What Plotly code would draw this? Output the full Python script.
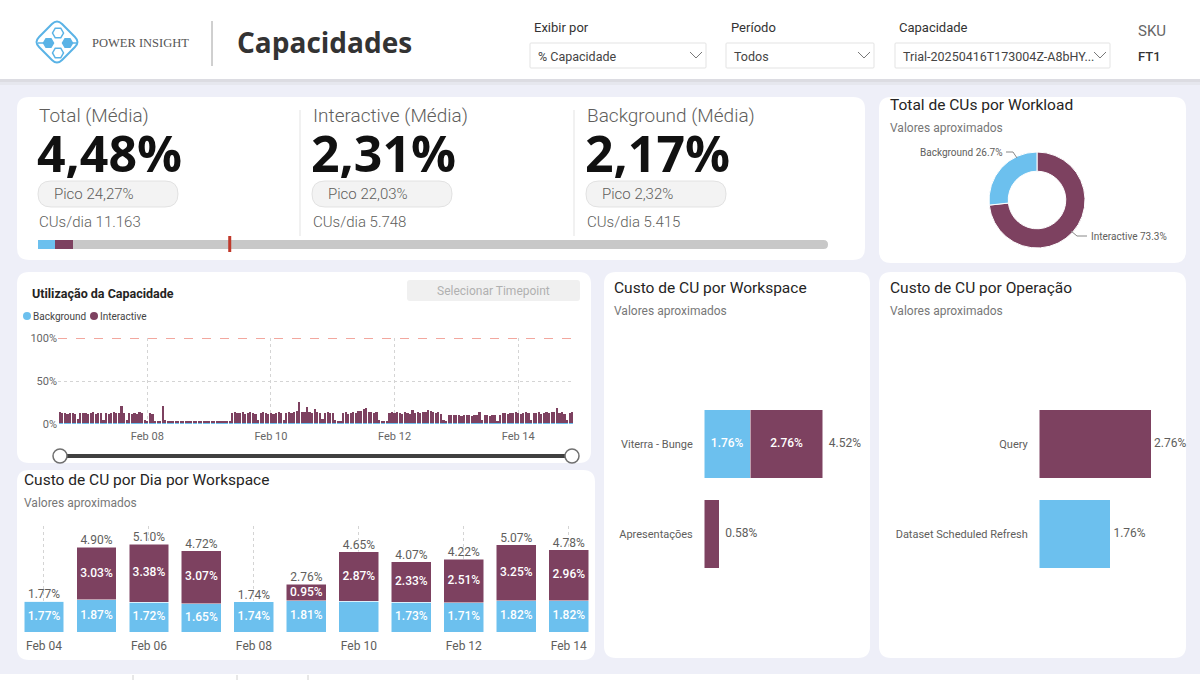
import plotly.graph_objects as go
import pandas as pd

W, H = 1200, 680
def X(p): return p / W
def Y(p): return 1 - p / H

BLUE = "#6CC0EE"
PURPLE = "#7D4160"
GRAY_TXT = "#605E5C"
BG = "#EEEFF8"
TITLE_FONT = "Roboto"
BODY_FONT = "Roboto"
NUM_FONT = "Open Sans"

# ---------------- DATA ----------------
kpi_titles = ["Total (Média)", "Interactive (Média)", "Background (Média)"]
kpi_avg = ["4,48%", "2,31%", "2,17%"]
kpi_peak = ["24,27%", "22,03%", "2,32%"]
kpi_cus_day = ["11.163", "5.748", "5.415"]
avg_background = 2.17
avg_interactive = 2.31
peak_total = 24.27

workload_labels = ["Interactive", "Background"]
workload_share = [73.3, 26.7]

util_start = "2025-02-06 14:00"
util_interactive = (
    [13, 11, 11, 10, 11, 11, 10, 4, 11, 11]
    + [11, 10, 11, 12, 10, 11, 11, 3, 11, 10, 11, 12, 11, 11, 20, 11, 3, 11, 10, 11, 10, 12, 11, 3]
    + [2, 11, 10, 2, 2, 2, 20, 3, 1, 1, 1, 1, 1, 2, 1, 1, 1, 1, 1, 1, 1, 1, 1, 1]
    + [1, 1, 1, 1, 1, 2, 1, 1, 1, 11, 12, 11, 11, 12, 10, 11, 12, 11, 10, 3, 11, 12, 11, 10]
    + [11, 10, 11, 12, 11, 3, 11, 12, 11, 13, 14, 24, 13, 12, 18, 12, 11, 16, 12, 11, 4, 11, 12, 11]
    + [11, 3, 2, 2, 11, 12, 10, 11, 12, 11, 13, 14, 16, 17, 12, 13, 11, 12, 3, 2, 2, 2, 11, 12]
    + [11, 12, 11, 10, 12, 11, 10, 15, 11, 12, 11, 13, 12, 15, 14, 12, 11, 12, 10, 3, 2, 9, 9, 9]
    + [9, 9, 8, 9, 9, 9, 8, 9, 9, 13, 3, 9, 9, 8, 9, 9, 2, 9, 11, 11, 10, 11, 11, 12]
    + [11, 10, 11, 12, 11, 3, 11, 11, 12, 10, 11, 12, 11, 13, 12, 17, 11, 12, 10, 3, 11, 12]
)
util_background = (
    [1.5, 1.6, 1.5, 1.5, 1.4, 1.5, 1.6, 1.5, 1.5, 1.5]
    + [1.5, 1.4, 1.5, 1.6, 1.5, 1.5, 1.5, 1.4, 1.5, 1.6, 1.5, 1.5, 1.5, 1.6, 1.5, 1.5, 1.4, 1.5, 1.5, 1.6, 1.5, 1.5, 1.4, 1.5]
    + [1.5, 1.6, 1.5, 1.5, 1.4, 1.5, 1.5, 1.5, 1.6, 1.5, 1.5, 1.4, 1.5, 1.5, 1.6, 1.5, 1.5, 1.5, 1.4, 1.5, 1.5, 1.6, 1.5, 1.5]
    + [1.5, 1.4, 1.5, 1.5, 1.6, 1.5, 1.5, 1.5, 1.4, 1.5, 1.6, 1.5, 1.5, 1.5, 1.4, 1.5, 1.5, 1.6, 1.5, 1.5, 1.5, 1.4, 1.5, 1.5]
    + [1.6, 1.5, 1.5, 1.5, 1.4, 1.5, 1.5, 1.6, 1.5, 1.5, 1.5, 1.4, 1.5, 1.5, 1.6, 1.5, 1.5, 1.5, 1.4, 1.5, 1.5, 1.6, 1.5, 1.5]
    + [1.5, 1.4, 1.5, 1.5, 1.6, 1.5, 1.5, 1.5, 1.4, 1.5, 1.6, 1.5, 1.5, 1.5, 1.4, 1.5, 1.5, 1.6, 1.5, 1.5, 1.5, 1.4, 1.5, 1.5]
    + [1.6, 1.5, 1.5, 1.5, 1.4, 1.5, 1.5, 1.6, 1.5, 1.5, 1.5, 1.4, 1.5, 1.5, 1.6, 1.5, 1.5, 1.5, 1.4, 1.5, 1.5, 1.6, 1.5, 1.5]
    + [1.5, 1.4, 1.5, 1.5, 1.6, 1.5, 1.5, 1.5, 1.4, 1.5, 1.6, 1.5, 1.5, 1.5, 1.4, 1.5, 1.5, 1.6, 1.5, 1.5, 1.5, 1.4, 1.5, 1.5]
    + [1.6, 1.5, 1.5, 1.5, 1.4, 1.5, 1.5, 1.6, 1.5, 1.5, 1.5, 1.4, 1.5, 1.5, 1.6, 1.5, 1.5, 1.5, 1.4, 1.5, 1.5, 1.6]
)
util_ticks = ["2025-02-08", "2025-02-10", "2025-02-12", "2025-02-14"]

day_dates = ["2025-02-04", "2025-02-05", "2025-02-06", "2025-02-07", "2025-02-08", "2025-02-09",
             "2025-02-10", "2025-02-11", "2025-02-12", "2025-02-13", "2025-02-14"]
day_background = [1.77, 1.87, 1.72, 1.65, 1.74, 1.81, 1.78, 1.73, 1.71, 1.82, 1.82]
day_interactive = [0, 3.03, 3.38, 3.07, 0, 0.95, 2.87, 2.33, 2.51, 3.25, 2.96]
day_total = [1.77, 4.90, 5.10, 4.72, 1.74, 2.76, 4.65, 4.07, 4.22, 5.07, 4.78]
day_bg_label_hidden = ["2025-02-10"]
day_ticks = ["2025-02-04", "2025-02-06", "2025-02-08", "2025-02-10", "2025-02-12", "2025-02-14"]

ws_names = ["Viterra - Bunge", "Apresentações"]
ws_background = [1.76, 0]
ws_interactive = [2.76, 0.58]
ws_total = [4.52, 0.58]

op_names = ["Query", "Dataset Scheduled Refresh"]
op_values = [2.76, 1.76]
op_kind = ["Interactive", "Background"]

# --------------- helpers ---------------
shapes = []
ann = []

def P(x, y):
    return f"{X(x):.5f},{Y(y):.5f}"

def rrect(x0, y0, x1, y1, r, fill, line=None, lw=0, layer="below"):
    d = (f"M{P(x0+r,y0)} L{P(x1-r,y0)} Q{P(x1,y0)} {P(x1,y0+r)} "
         f"L{P(x1,y1-r)} Q{P(x1,y1)} {P(x1-r,y1)} L{P(x0+r,y1)} "
         f"Q{P(x0,y1)} {P(x0,y1-r)} L{P(x0,y0+r)} Q{P(x0,y0)} {P(x0+r,y0)} Z")
    shapes.append(dict(type="path", xref="paper", yref="paper", path=d, fillcolor=fill,
                       line=dict(color=line or fill, width=lw), layer=layer))

def rect(x0, y0, x1, y1, fill, layer="below"):
    shapes.append(dict(type="rect", xref="paper", yref="paper", x0=X(x0), x1=X(x1),
                       y0=Y(y1), y1=Y(y0), fillcolor=fill, line=dict(width=0), layer=layer))

def seg(x0, y0, x1, y1, color, w=1, dash=None, layer="below"):
    ln = dict(color=color, width=w)
    if dash:
        ln["dash"] = dash
    shapes.append(dict(type="line", xref="paper", yref="paper", x0=X(x0), y0=Y(y0),
                       x1=X(x1), y1=Y(y1), line=ln, layer=layer))

def polyline(pts, color, w=1, fill=None, closed=False, layer="above"):
    d = "M" + " L".join(P(a, b) for a, b in pts) + (" Z" if closed else "")
    shapes.append(dict(type="path", xref="paper", yref="paper", path=d,
                       fillcolor=fill if fill else "rgba(0,0,0,0)",
                       line=dict(color=color, width=w), layer=layer))

def circle(cx, cy, r, fill, line=None, lw=0, layer="above"):
    shapes.append(dict(type="circle", xref="paper", yref="paper", x0=X(cx-r), x1=X(cx+r),
                       y0=Y(cy+r), y1=Y(cy-r), fillcolor=fill,
                       line=dict(color=line or fill, width=lw), layer=layer))

def text(x, y, s, size=12, color="#333", family=BODY_FONT, anchor="left", weight="normal", valign="middle", height=None):
    a = dict(x=X(x), y=Y(y), xref="paper", yref="paper", text=s, showarrow=False,
             xanchor=anchor, yanchor=valign,
             font=dict(size=size, color=color, family=family, weight=weight))
    if height:
        a["height"] = height
    ann.append(a)

def hexagon(cx, cy, r, color, filled):
    import math
    pts = [(cx + r * math.cos(math.radians(a)), cy + r * math.sin(math.radians(a))) for a in range(0, 360, 60)]
    polyline(pts, color, w=1.5, fill=color if filled else None, closed=True)

# --------------- page background & header ---------------
rect(0, 0, 1200, 680, BG)
rect(0, 0, 1200, 79, "#FFFFFF")
rect(0, 79, 1200, 82, "#DCDCE2")
rect(0, 82, 1200, 85, "#E6E7EE")
rect(0, 674, 1200, 680, "#FFFFFF")
for xx in [133, 237, 308]:
    seg(xx, 675, xx, 680, "#D0D0D0")

# logo
LB = "#5AB3E6"
dpts = [(57, 19), (80, 42), (57, 65), (34, 42)]
rr = 0.22
lp = []
for i in range(4):
    a = dpts[i - 1]; b = dpts[i]; c = dpts[(i + 1) % 4]
    lp.append((b[0] + (a[0] - b[0]) * rr, b[1] + (a[1] - b[1]) * rr))
    lp.append((b[0] + (c[0] - b[0]) * rr, b[1] + (c[1] - b[1]) * rr))
dpath = ""
for i in range(4):
    b = dpts[i]
    p1 = lp[2 * i]; p2 = lp[2 * i + 1]
    dpath += ("M" if i == 0 else " L") + P(*p1) + f" Q{P(*b)} {P(*p2)}"
dpath += " Z"
shapes.append(dict(type="path", xref="paper", yref="paper", path=dpath, fillcolor="rgba(0,0,0,0)",
                   line=dict(color=LB, width=2), layer="above"))
hexagon(58, 33, 5.5, LB, False)
hexagon(58, 53, 5.5, LB, False)
hexagon(48.5, 43, 5, LB, True)
hexagon(67.5, 43, 5, LB, True)
seg(38, 43, 44, 43, LB, 1.5, layer="above")
seg(72, 43, 77, 43, LB, 1.5, layer="above")
text(90, 43, "POWER INSIGHT", 12.5, "#555", "Liberation Serif")
seg(212, 21, 212, 66, "#A0A0A0", 1)
text(235, 42, "Capacidades", 28, "#333333", NUM_FONT, weight="bold")

# slicers
def slicer(lx, label, x0, x1, value):
    text(lx, 28, label, 13, "#333", BODY_FONT)
    rrect(x0, 43, x1, 68, 1, "#FFFFFF", "#E3E3E3", 1)
    text(x0 + 6, 56, value, 12.5, "#444", BODY_FONT)
    polyline([(x1 - 16, 52), (x1 - 10, 58), (x1 - 4, 52)], "#777", 1)

slicer(532, "Exibir por", 530, 706, "% Capacidade")
slicer(729, "Período", 726, 874, "Todos")
slicer(897, "Capacidade", 895, 1110, "Trial-20250416T173004Z-A8bHY...")
text(1136, 31, "SKU", 15, "#666", BODY_FONT)
text(1136, 56, "FT1", 13, "#333", BODY_FONT, weight=500)

# --------------- cards ---------------
rrect(17, 97, 865, 260, 12, "#FFFFFF")
rrect(879, 97, 1186, 263, 12, "#FFFFFF")
rrect(17, 272, 591, 463, 12, "#FFFFFF")
rrect(17, 470, 595, 660, 12, "#FFFFFF")
rrect(604, 272, 870, 658, 12, "#FFFFFF")
rrect(879, 272, 1186, 658, 12, "#FFFFFF")

# KPI card
for i, x0 in enumerate([38, 312, 586]):
    text(x0 - 1, 115, kpi_titles[i], 19, GRAY_TXT, BODY_FONT, weight=300)
    text(x0 - 3, 153, kpi_avg[i], 50, "#111111", NUM_FONT, weight="bold", height=50)
    rrect(x0, 181, x0 + 140, 207, 13, "#F3F3F3", "#E2E2E2", 1)
    text(x0 + 14, 194, "Pico " + kpi_peak[i], 15, GRAY_TXT, BODY_FONT, weight=300)
    text(x0 - 1, 222, "CUs/dia " + kpi_cus_day[i], 15, GRAY_TXT, BODY_FONT, weight=300)
seg(300, 110, 300, 236, "#E3E3E3", 1)
seg(574, 110, 574, 236, "#E3E3E3", 1)
rrect(38, 240, 828, 249, 4.5, "#C8C8C8")

# donut card
text(888, 105, "Total de CUs por Workload", 15.5, "#252423", TITLE_FONT)
text(888, 128, "Valores aproximados", 12, "#777", TITLE_FONT)

# util card
text(30, 293, "Utilização da Capacidade", 12.5, "#252423", TITLE_FONT, weight="bold")
rrect(407, 280, 580, 301, 3, "#F0F0F0")
text(493, 291, "Selecionar Timepoint", 12, "#B0B0B0", TITLE_FONT, anchor="center")
circle(27, 316, 4, BLUE)
text(31, 316, "Background", 10, "#444", BODY_FONT)
circle(94, 316, 4, PURPLE)
text(98, 316, "Interactive", 10, "#444", BODY_FONT)
seg(60, 456, 572, 456, "#404040", 4, layer="above")
circle(60, 456, 7, "#FFFFFF", "#707070", 1.5)
circle(572, 456, 7, "#FFFFFF", "#707070", 1.5)

# daily card
text(22, 480, "Custo de CU por Dia por Workspace", 15.5, "#252423", TITLE_FONT)
text(22, 503, "Valores aproximados", 12, "#777", TITLE_FONT)
# workspace card
text(612, 288, "Custo de CU por Workspace", 15.5, "#252423", TITLE_FONT)
text(612, 311, "Valores aproximados", 12, "#777", TITLE_FONT)
# operation card
text(888, 288, "Custo de CU por Operação", 15.5, "#252423", TITLE_FONT)
text(888, 311, "Valores aproximados", 12, "#777", TITLE_FONT)

# --------------- traces ---------------
fig = go.Figure()

# progress bar (x / y)
fig.add_trace(go.Bar(x=[avg_background], y=[0], orientation="h", width=1, marker=dict(color=BLUE, line=dict(width=0)),
                     xaxis="x", yaxis="y", hoverinfo="skip"))
fig.add_trace(go.Bar(x=[avg_interactive], y=[0], orientation="h", width=1, marker=dict(color=PURPLE, line=dict(width=0)),
                     xaxis="x", yaxis="y", hoverinfo="skip"))
shapes.append(dict(type="line", xref="x", yref="paper", x0=peak_total, x1=peak_total,
                   y0=Y(252), y1=Y(236), line=dict(color="#C0392B", width=3), layer="above"))

# donut
fig.add_trace(go.Pie(labels=workload_labels, values=workload_share, hole=0.6, sort=False,
                     direction="clockwise", rotation=0, textinfo="none",
                     marker=dict(colors=[PURPLE, BLUE], line=dict(color="#FFFFFF", width=1)),
                     domain=dict(x=[X(989), X(1085)], y=[Y(248), Y(152)]), showlegend=False))
text(1004, 152, f"{workload_labels[1]} {workload_share[1]}%", 10, GRAY_TXT, BODY_FONT, anchor="right")
polyline([(1006, 152), (1013, 152), (1017, 158)], "#888", 1)
text(1089, 236, f"{workload_labels[0]} {workload_share[0]}%", 10, GRAY_TXT, BODY_FONT)
polyline([(1071, 231), (1077, 236), (1087, 236)], "#888", 1)

# utilisation (x2 / y2)
util_time = pd.date_range(util_start, periods=len(util_interactive), freq="h")
fig.add_trace(go.Bar(x=util_time, y=util_background, width=3600000 * 0.85, marker=dict(color=BLUE, line=dict(width=0)),
                     xaxis="x2", yaxis="y2", hoverinfo="skip"))
fig.add_trace(go.Bar(x=util_time, y=util_interactive, width=3600000 * 0.85, marker=dict(color=PURPLE, line=dict(width=0)),
                     xaxis="x2", yaxis="y2", hoverinfo="skip"))
shapes.append(dict(type="line", xref="x2 domain", yref="y2", x0=0, x1=1, y0=100, y1=100,
                   line=dict(color="#F2A79E", width=2, dash="dash"), layer="above"))

# daily (x3 / y3)
DAYW = 86400000 * 0.76
fig.add_trace(go.Bar(x=day_dates, y=day_background, width=DAYW, marker=dict(color=BLUE, line=dict(color="#FFFFFF", width=0.5)),
                     xaxis="x3", yaxis="y3", hoverinfo="skip"))
fig.add_trace(go.Bar(x=day_dates, y=day_interactive, width=DAYW, marker=dict(color=PURPLE, line=dict(color="#FFFFFF", width=0.5)),
                     xaxis="x3", yaxis="y3", hoverinfo="skip"))
bg_txt = ["" if d in day_bg_label_hidden else f"{v:.2f}%" for d, v in zip(day_dates, day_background)]
fig.add_trace(go.Scatter(x=day_dates, y=[v / 2 for v in day_background], mode="text", text=bg_txt,
                         textfont=dict(color="#FFFFFF", size=12, family=BODY_FONT, weight=500),
                         xaxis="x3", yaxis="y3", hoverinfo="skip", cliponaxis=False))
it_txt = [f"{v:.2f}%" if v > 0 else "" for v in day_interactive]
fig.add_trace(go.Scatter(x=day_dates, y=[b + v / 2 for b, v in zip(day_background, day_interactive)], mode="text", text=it_txt,
                         textfont=dict(color="#FFFFFF", size=12, family=BODY_FONT, weight=500),
                         xaxis="x3", yaxis="y3", hoverinfo="skip", cliponaxis=False))
fig.add_trace(go.Scatter(x=day_dates, y=day_total, mode="text", text=[f"{v:.2f}%" for v in day_total],
                         textposition="top center", textfont=dict(color=GRAY_TXT, size=12, family=BODY_FONT),
                         xaxis="x3", yaxis="y3", hoverinfo="skip", cliponaxis=False))

# workspace (x4 / y4)
fig.add_trace(go.Bar(y=ws_names, x=ws_background, orientation="h", width=0.756,
                     marker=dict(color=BLUE, line=dict(color="#FFFFFF", width=0.5)), xaxis="x4", yaxis="y4", hoverinfo="skip"))
fig.add_trace(go.Bar(y=ws_names, x=ws_interactive, orientation="h", width=0.756,
                     marker=dict(color=PURPLE, line=dict(color="#FFFFFF", width=0.5)), xaxis="x4", yaxis="y4", hoverinfo="skip"))
ws_in_bg = [f"{v:.2f}%" if v > 0.3 else "" for v in ws_background]
ws_in_it = [f"{v:.2f}%" if v > 0.8 else "" for v in ws_interactive]
fig.add_trace(go.Scatter(y=ws_names, x=[v / 2 for v in ws_background], mode="text", text=ws_in_bg,
                         textfont=dict(color="#FFFFFF", size=12, family=BODY_FONT, weight=500),
                         xaxis="x4", yaxis="y4", hoverinfo="skip", cliponaxis=False))
fig.add_trace(go.Scatter(y=ws_names, x=[b + v / 2 for b, v in zip(ws_background, ws_interactive)], mode="text", text=ws_in_it,
                         textfont=dict(color="#FFFFFF", size=12, family=BODY_FONT, weight=500),
                         xaxis="x4", yaxis="y4", hoverinfo="skip", cliponaxis=False))
fig.add_trace(go.Scatter(y=ws_names, x=ws_total, mode="text", text=[f"  {v:.2f}%" for v in ws_total],
                         textposition="middle right", textfont=dict(color=GRAY_TXT, size=12, family=BODY_FONT),
                         xaxis="x4", yaxis="y4", hoverinfo="skip", cliponaxis=False))

# operations (x5 / y5)
kind_color = {"Interactive": PURPLE, "Background": BLUE}
fig.add_trace(go.Bar(y=op_names, x=op_values, orientation="h", width=0.756,
                     marker=dict(color=[kind_color[k] for k in op_kind], line=dict(color="#FFFFFF", width=0.5)),
                     xaxis="x5", yaxis="y5", hoverinfo="skip"))
fig.add_trace(go.Scatter(y=op_names, x=op_values, mode="text", text=[f" {v:.2f}%" for v in op_values],
                         textposition="middle right", textfont=dict(color=GRAY_TXT, size=12, family=BODY_FONT),
                         xaxis="x5", yaxis="y5", hoverinfo="skip", cliponaxis=False))

hidden = dict(visible=False, fixedrange=True)
tickf = dict(size=11, color="#666", family=BODY_FONT)
catf = dict(size=11, color=GRAY_TXT, family=BODY_FONT)
fig.update_layout(
    width=W, height=H, margin=dict(l=0, r=0, t=0, b=0, autoexpand=False),
    paper_bgcolor=BG, plot_bgcolor="rgba(0,0,0,0)",
    showlegend=False, barmode="stack",
    shapes=shapes, annotations=ann,
    xaxis=dict(domain=[X(38), X(828)], range=[0, 100], anchor="y", **hidden),
    yaxis=dict(domain=[Y(249), Y(240)], range=[-0.5, 0.5], anchor="x", **hidden),
    xaxis2=dict(domain=[X(58), X(574)], anchor="y2", type="date",
                range=["2025-02-06 13:20", "2025-02-14 21:40"], tickvals=util_ticks, tickformat="%b %d",
                showgrid=True, gridcolor="#D4D4D4", griddash="dot", gridwidth=1, zeroline=False, showline=False,
                tickfont=tickf, ticks="outside", ticklen=2, tickcolor="rgba(0,0,0,0)",
                fixedrange=True, automargin=False),
    yaxis2=dict(domain=[Y(424), Y(338)], anchor="x2", range=[0, 100], tickvals=[0, 50, 100],
                ticktext=["0%", "50%", "100%"], showgrid=True, gridcolor="#D4D4D4", griddash="dot",
                zeroline=False, showline=False, tickfont=tickf, fixedrange=True, automargin=False),
    xaxis3=dict(domain=[X(17.75), X(595)], anchor="y3", type="date",
                range=["2025-02-03 12:00", "2025-02-14 12:00"], tickvals=day_ticks, tickformat="%b %d",
                showgrid=True, gridcolor="#D4D4D4", griddash="dot", zeroline=False, showline=False,
                ticks="outside", ticklen=3, tickcolor="rgba(0,0,0,0)",
                tickfont=dict(size=12, color=GRAY_TXT, family=BODY_FONT), fixedrange=True, automargin=False),
    yaxis3=dict(domain=[Y(632), Y(526)], anchor="x3", range=[0, 106 / 17.25], **hidden),
    xaxis4=dict(domain=[X(704), X(704 + 26.3 * 6)], anchor="y4", range=[0, 6], **hidden),
    yaxis4=dict(domain=[Y(579), Y(399)], anchor="x4", autorange="reversed", type="category",
                showgrid=False, zeroline=False, showline=False, ticks="outside", ticklen=8,
                tickcolor="rgba(0,0,0,0)", tickfont=catf, fixedrange=True, automargin=False),
    xaxis5=dict(domain=[X(1039), X(1039 + 40.6 * 3.5)], anchor="y5", range=[0, 3.5], **hidden),
    yaxis5=dict(domain=[Y(579), Y(399)], anchor="x5", autorange="reversed", type="category",
                showgrid=False, zeroline=False, showline=False, ticks="outside", ticklen=8,
                tickcolor="rgba(0,0,0,0)", tickfont=catf, fixedrange=True, automargin=False),
)

fig.write_html("out.html")
